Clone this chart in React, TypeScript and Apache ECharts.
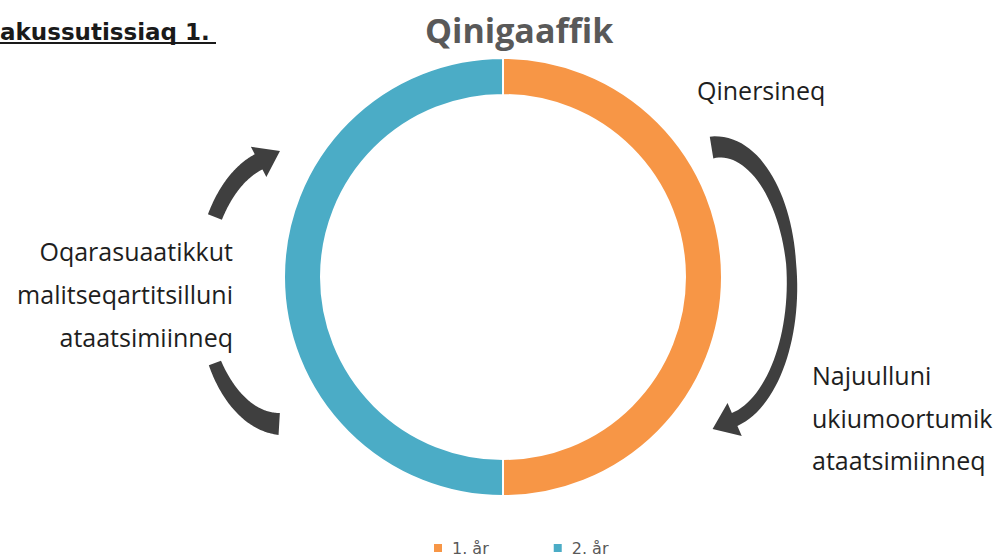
import React, { useEffect, useRef } from 'react';
import * as echarts from 'echarts';

const categories = ['1. år', '2. år'];
const values = [50, 50];
const titleText = 'Qinigaaffik';
const cornerText = 'akussutissiaq 1.';
const topRightLabel = 'Qinersineq';
const rightLabels = ['Najuulluni', 'ukiumoortumik', 'ataatsimiinneq'];
const leftLabels = ['Oqarasuaatikkut', 'malitseqartitsilluni', 'ataatsimiinneq'];

type ArrowSpec = {
  cx: number; cy: number; rx: number; ry: number;
  t0: number; t1: number; widths: number[];
  head?: { len: number; half: number };
};

function arrowPoints(a: ArrowSpec): number[][] {
  const N = 60;
  const deg = Math.PI / 180;
  const sideA: number[][] = [];
  const sideB: number[][] = [];
  let last: any = null;
  for (let i = 0; i <= N; i++) {
    const u = i / N;
    const t = (a.t0 + (a.t1 - a.t0) * u) * deg;
    const x = a.cx + a.rx * Math.cos(t);
    const y = a.cy + a.ry * Math.sin(t);
    let tx = -a.rx * Math.sin(t);
    let ty = a.ry * Math.cos(t);
    if (a.t1 < a.t0) { tx = -tx; ty = -ty; }
    const l = Math.hypot(tx, ty);
    tx /= l; ty /= l;
    const nx = ty, ny = -tx;
    const ws = a.widths;
    const seg = u * (ws.length - 1);
    const k = Math.min(Math.floor(seg), ws.length - 2);
    const f = seg - k;
    const w = ws[k] + (ws[k + 1] - ws[k]) * f;
    sideA.push([x + nx * w / 2, y + ny * w / 2]);
    sideB.push([x - nx * w / 2, y - ny * w / 2]);
    last = { x, y, tx, ty, nx, ny };
  }
  const pts = [...sideA];
  if (a.head) {
    pts.push([last.x + last.nx * a.head.half, last.y + last.ny * a.head.half]);
    pts.push([last.x + last.tx * a.head.len, last.y + last.ty * a.head.len]);
    pts.push([last.x - last.nx * a.head.half, last.y - last.ny * a.head.half]);
  }
  pts.push(...sideB.reverse());
  return pts;
}

export default function App() {
  const ref = useRef<HTMLDivElement>(null);
  useEffect(() => {
    document.body.style.margin = '0';
    if (!ref.current) return;
    const chart = echarts.init(ref.current, null, { renderer: 'svg' });
    const arrowColor = '#3f3f3f';
    const bodyFont = '"Open Sans", sans-serif';
    const textColor = '#1e1e1e';
    const arrows: ArrowSpec[] = [
      { cx: 718, cy: 285, rx: 74, ry: 138, t0: -95, t1: 77, widths: [22, 15, 10, 12, 14], head: { len: 24, half: 18 } },
      { cx: 282, cy: 290, rx: 80, ry: 134, t0: 213, t1: 253, widths: [15, 17], head: { len: 24, half: 17 } },
      { cx: 282, cy: 290, rx: 80, ry: 134, t0: 147, t1: 92, widths: [13, 17, 22] },
    ];
    const graphics: any[] = arrows.map((a) => ({
      type: 'polygon',
      shape: { points: arrowPoints(a) },
      style: { fill: arrowColor },
      silent: true,
    }));
    graphics.push({
      type: 'text', x: 0, y: 31.5,
      style: { text: cornerText, font: 'bold 23px "DejaVu Sans"', fill: '#1a1a1a', align: 'left', verticalAlign: 'middle' },
    });
    graphics.push({
      type: 'line', shape: { x1: 0, y1: 43, x2: 216, y2: 43 },
      style: { stroke: '#1a1a1a', lineWidth: 2 },
    });
    graphics.push({
      type: 'text', x: 697, y: 90,
      style: { text: topRightLabel, font: `25px ${bodyFont}`, fill: textColor, align: 'left', verticalAlign: 'middle' },
    });
    rightLabels.forEach((t, i) => {
      graphics.push({
        type: 'text', x: 812, y: 375 + i * 42.5,
        style: { text: t, font: `25px ${bodyFont}`, fill: textColor, align: 'left', verticalAlign: 'middle' },
      });
    });
    leftLabels.forEach((t, i) => {
      graphics.push({
        type: 'text', x: 233, y: 251 + i * 43,
        style: { text: t, font: `25px ${bodyFont}`, fill: textColor, align: 'right', verticalAlign: 'middle' },
      });
    });

    chart.setOption({
      animation: false,
      title: {
        text: titleText,
        left: 425,
        top: 13,
        padding: 0,
        textStyle: { fontFamily: '"Open Sans"', fontWeight: 'bold', fontSize: 34, color: '#595959' },
      },
      legend: {
        data: categories,
        left: 432,
        top: 540,
        padding: 0,
        icon: 'rect',
        itemWidth: 10,
        itemHeight: 10,
        itemGap: 63,
        selectedMode: false,
        textStyle: { fontFamily: '"DejaVu Sans"', fontSize: 16, color: '#595959', padding: [0, 0, 0, 4] },
      },
      color: ['#F79646', '#4BACC6'],
      series: [
        {
          type: 'pie',
          radius: [182, 219],
          center: [503, 277],
          startAngle: 90,
          clockwise: true,
          silent: true,
          label: { show: false },
          labelLine: { show: false },
          itemStyle: { borderColor: '#ffffff', borderWidth: 2 },
          data: categories.map((name, i) => ({ name, value: values[i] })),
        },
      ],
      graphic: graphics,
    });
    return () => chart.dispose();
  }, []);
  return <div ref={ref} style={{ width: 1002, height: 557 }} />;
}
